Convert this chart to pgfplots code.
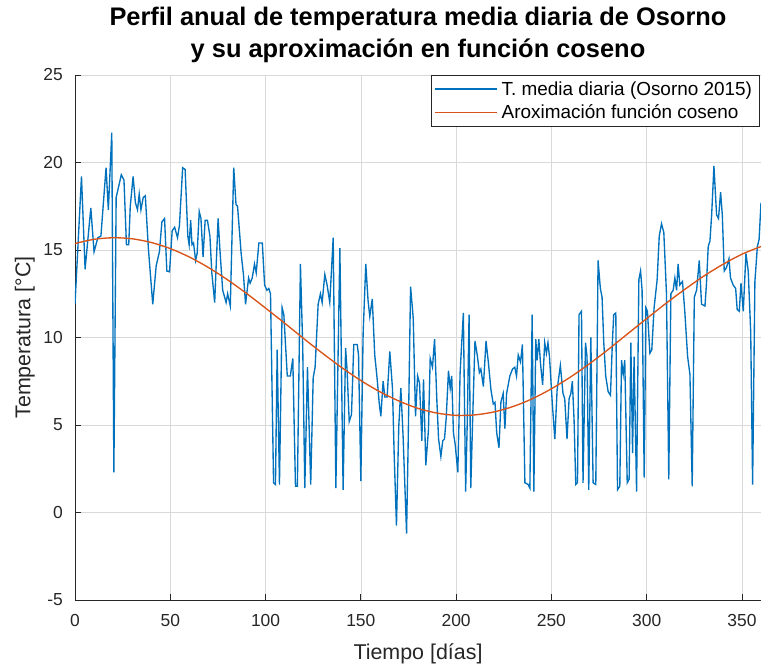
\documentclass[border=0pt]{standalone}
\usepackage{fontspec}
\setmainfont{Liberation Sans}
\usepackage{pgfplots}
\pgfplotsset{compat=1.18}
\definecolor{mblue}{rgb}{0,0.447,0.741}
\definecolor{morange}{rgb}{0.85,0.325,0.098}
\definecolor{axgray}{rgb}{0.15,0.15,0.15}
\begin{document}
\begin{tikzpicture}
\useasboundingbox (-75bp,-69bp) rectangle (686bp,600bp);
\begin{axis}[
  at={(0,0)}, anchor=south west,
  scale only axis, width=686bp, height=525bp,
  xmin=0, xmax=360, ymin=-5, ymax=25,
  xtick={0,50,...,350}, ytick={-5,0,...,25},
  axis x line=bottom, axis y line=left,
  axis line style={axgray, line width=0.7bp, -},
  tick style={axgray, line width=0.7bp},
  major tick length=6bp,
  tick align=inside,
  grid=major,
  major grid style={black!15, line width=0.6bp},
  /pgf/number format/assume math mode=true,
  ticklabel style={font=\fontsize{17.5}{19}\selectfont, text=axgray},
  yticklabel style={anchor=east, inner sep=0pt, xshift=-12bp},
  xticklabel style={anchor=north, inner sep=0pt, yshift=-14bp},
  xlabel={Tiempo [días]},
  ylabel={Temperatura [°C]},
  xlabel style={at={(rel axis cs:0.5,-0.082)}, anchor=north, inner sep=0pt, font=\fontsize{21.5}{24}\selectfont, text=axgray},
  ylabel style={at={(rel axis cs:-0.0583,0.5)}, anchor=south, inner sep=0pt, font=\fontsize{21.5}{24}\selectfont, text=axgray},
  title={Perfil anual de temperatura media diaria de Osorno\\y su aproximación en función coseno},
  title style={at={(rel axis cs:0.5,1.011)}, anchor=south, inner sep=0pt, align=center, font=\bfseries\fontsize{25.5}{32}\selectfont},
  legend cell align=left,
  legend style={at={(rel axis cs:0.519,1)}, anchor=north west, draw=axgray, line width=0.7bp, fill=white,
    inner xsep=3bp, inner ysep=2bp, row sep=0pt, font=\fontsize{19}{19}\selectfont,
    nodes={inner sep=4bp}},
  legend image code/.code={\draw[#1, line width=1.3bp] (0bp,0bp) -- (62bp,0bp);},
]
\addplot[mblue, line width=1.35bp] coordinates {
(0,11.9) (3.4,19.2) (5.3,13.9) (8.3,17.4) (10,14.9) (12,15.7) (13.6,15.8) (16.3,19.7) (17.5,17.3) (19.3,21.7) (20.4,2.3) (21.6,18.0) (24.3,19.3) (25.7,19.0) (27,15.3) (28.2,15.3) (29,17.5) (30.5,19.2) (31.7,17.7) (32.8,17.3) (33.7,18.2) (34.6,17.3) (35.8,18.0) (36.9,18.1) (38.5,15.1) (40.8,11.9) (42.6,14.1) (44.3,14.9) (45.6,16.6) (47,16.8) (48.2,13.8) (49.6,13.75)
(51,16.1) (52.3,16.3) (53.8,15.7) (54.8,16.4) (56.5,19.7) (57.8,19.6) (59.2,15.8) (59.9,15.3) (60.7,16.7) (61.4,15.3) (62.2,15.4) (63.3,14.4) (64.1,14.8) (65.2,17.2) (66.1,16.8) (67.2,14.6) (68.3,16.7) (69.5,16.7) (70.8,15.8) (71.8,13.7) (73.3,12.0) (75.1,16.8) (76.0,15.1) (77.5,12.7) (79.3,12.0) (80.1,12.5) (81.5,11.8) (83.3,19.7) (84.5,17.6) (85.3,17.5) (87.2,14.8) (88.4,13.6) (89.5,11.9) (91.1,13.4) (91.9,13.1) (93,13.4) (94.2,14.2) (95.1,13.7) (96.5,15.4) (98.3,15.4) (99.5,13.0)
(100.7,12.7) (101.7,12.8) (102.6,12.5) (104.2,1.7) (105.2,1.6) (106.1,9.3) (107.3,1.6) (108.7,11.7) (109.6,11.3) (111.4,7.8) (113,7.8) (114.3,8.8) (115.7,1.5) (116.7,1.5) (118.3,14.2) (119.5,9.5) (120.6,1.4) (122,8.3) (123.7,1.6) (125,7.7) (126,8.3) (127.6,11.9) (128.8,12.5) (129.7,12.0) (131.1,13.6) (132.3,13.0) (133.7,12.0) (135.5,15.7) (136.9,1.4) (139,15.1) (140.7,1.3) (142,9.4) (142.8,8.1) (143.9,5.2) (145.1,5.6) (146.3,9.6) (148.1,9.6) (148.8,9.0)
(150,1.8) (151.2,10.2) (152.6,14.2) (153.8,12.1) (154.7,11.2) (156,12.2) (157.3,9.0) (158.6,7.6) (159.6,6.3) (160.5,5.5) (161.7,7.5) (162.6,6.6) (163.8,6.6) (165.2,9.2) (166.6,7.1) (167.5,3.3) (168.7,-0.75) (169.9,4.9) (171,7.1) (172.2,4.3) (174,-1.2) (174.8,3.7) (176.1,12.9) (177.5,11.1) (178.7,5.5) (179.8,7.8) (180.8,7.4) (182,4.1) (182.9,7.6) (184.1,2.7) (185.5,4.75) (186.4,8.8) (187.6,8.3) (188.7,9.9) (189.9,6.4) (190.8,4.2) (192,3.2) (193,4.1) (193.9,4.2) (194.8,5.4) (196,8.1) (196.9,7.1) (197.7,7.8) (198.6,4.55) (199.5,3.9)
(200.9,2.3) (202.1,8.0) (203.8,11.4) (205,1.2) (205.9,5.4) (206.8,11.3) (207.7,1.4) (208.7,5.4) (209.9,9.8) (211.1,9.0) (212.2,8.0) (213,8.2) (214.3,7.2) (215.7,9.8) (216.9,8.6) (218.3,7.0) (219.5,6.2) (220.4,6.3) (221.3,4.55) (222.5,3.7) (223.5,6.3) (224.7,6.8) (225.6,4.8) (226.5,6.8) (228.2,7.8) (229.6,8.2) (230.8,8.3) (231.7,7.8) (232.6,9.0) (233.8,8.6) (234.8,9.6) (236.1,1.7) (237.8,1.6) (238.7,1.4) (239.9,11.3) (240.8,1.2) (241.8,9.9) (242.5,8.7) (243.4,9.9) (244.3,8.5) (245.4,7.3) (246.5,9.7) (247.4,9.1) (248.2,9.7) (249,8.9)
(250.5,6.2) (251.8,4.2) (253,7.0) (254.7,8.4) (256.1,6.8) (257,6.5) (258.2,4.2) (259.3,6.5) (260.2,6.8) (261,7.5) (261.9,5.3) (262.8,1.6) (263.7,1.7) (264.5,11.3) (265.8,11.5) (266.6,1.7) (267.9,9.7) (268.7,8.9) (269.6,1.3) (270.7,10.0) (271.9,1.7) (273.3,1.6) (274.5,14.4) (275.7,12.8) (276.6,12.3) (277.5,9.7) (278.5,7.8) (279.8,6.9) (281,6.7) (282,9.7) (282.7,11.3) (283.8,11.4) (284.7,1.3) (285.9,1.5) (286.8,8.7) (287.7,7.9) (288.5,8.7) (289.8,1.7) (290.8,1.9) (291.7,9.7) (292.6,3.4) (293.4,8.9) (294.7,1.2) (295.9,13.3) (296.8,13.8) (297.6,12.7) (298.7,2.0) (299.6,11.7)
(300.4,11.5) (301.7,9.1) (302.7,9.3) (303.9,11.7) (305.5,13.3) (306.6,15.8) (307.8,16.5) (309,16.0) (310.4,12.5) (311.6,1.9) (312.7,12.5) (313.9,12.7) (314.8,13.4) (315.7,12.7) (316.5,14.2) (317.4,13.0) (318.8,13.2) (320,11.5) (321.5,8.9) (322.7,7.9) (323.9,1.5) (325,12.3) (326.2,12.7) (327.6,14.4) (328.8,11.9) (330.6,11.8) (331.4,13.1) (332.3,15.2) (333.2,15.5) (334.1,17.0) (335.3,19.8) (336.7,17.0) (337.7,16.8) (338.8,18.3) (339.7,17.0) (340.7,13.8) (341.9,14.0) (343.2,14.5) (344,13.4) (345.4,13.0) (346.7,12.8) (347.5,11.6) (348.6,11.5) (349.5,13.1)
(350.7,11.5) (352.1,14.8) (353.3,13.8) (354.6,10.3) (355.6,1.6) (356.8,13.2) (358.1,15.2) (359,15.6) (360,17.7)
};
\addlegendentry{T. media diaria (Osorno 2015)}
\addplot[morange, line width=1.35bp, smooth] coordinates {
(0,15.37) (10,15.61) (20,15.70) (30,15.64) (40,15.43) (50,15.08) (60,14.60) (70,14.00) (80,13.30) (90,12.52) (100,11.68) (110,10.82) (120,9.94) (130,9.09) (140,8.28) (150,7.54) (160,6.90) (170,6.37) (180,5.95) (190,5.68) (200,5.55) (210,5.58) (220,5.75) (230,6.06) (240,6.50) (250,7.07) (260,7.74) (270,8.50) (280,9.33) (290,10.21) (300,11.08) (310,11.94) (320,12.75) (330,13.51) (340,14.18) (350,14.76) (360,15.20)
};
\addlegendentry{Aroximación función coseno}
\end{axis}
\end{tikzpicture}
\end{document}
